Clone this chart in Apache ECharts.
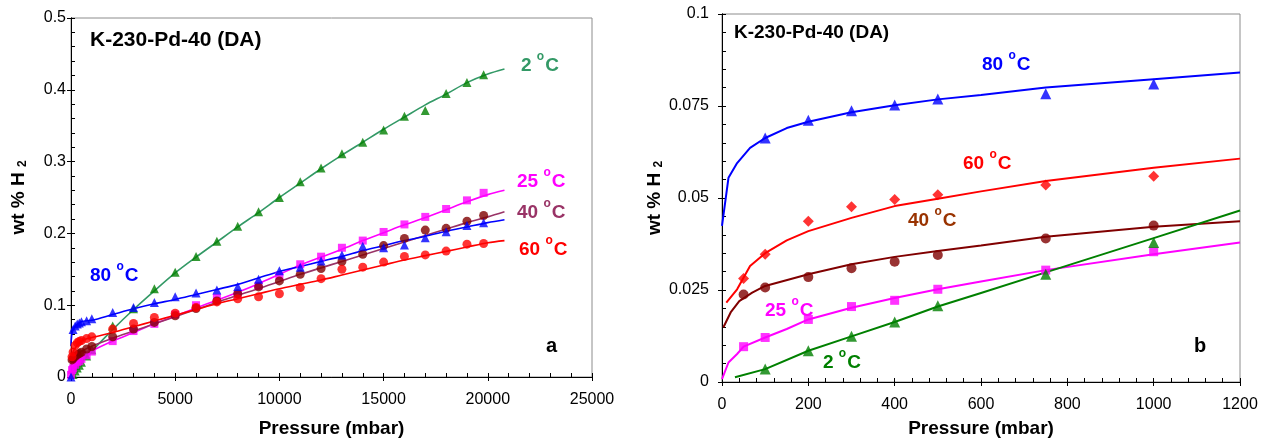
<!DOCTYPE html>
<html>
<head>
<meta charset="utf-8">
<script src="https://cdn.jsdelivr.net/npm/echarts@6/dist/echarts.min.js"></script>
<style>
html,body{margin:0;padding:0;background:#fff;}
#chart{width:1265px;height:443px;}
</style>
</head>
<body>
<div id="chart"></div>
<script>
// measured points (mbar, wt %)
const pLow = [50, 100, 200, 300, 400, 500, 750, 1000];
const pHigh = [2000, 3000, 4000, 5000, 6000, 7000, 8000, 9000, 10000, 11000, 12000, 13000, 14000, 15000, 16000, 17000, 18000, 19000, 19800];

const low80 = [null, 0.0663, 0.0711, 0.0737, 0.0753, 0.0769, 0.0783, 0.081];
const low60 = [0.0281, 0.0347, 0.0437, 0.0476, 0.0496, 0.0509, 0.0535, 0.0559];
const low40 = [0.0238, 0.0257, 0.0285, 0.0309, 0.0327, 0.0345, 0.039, 0.0425];
const low25 = [0.0096, 0.0121, 0.017, 0.0205, 0.0222, 0.0252, 0.0304, 0.0354];
const low2 = [null, 0.0035, 0.0085, 0.0124, 0.0163, 0.0207, 0.0293, 0.0379];

const high2 = [0.071, 0.095, 0.123, 0.146, 0.168, 0.189, 0.21, 0.23, 0.25, 0.272, 0.291, 0.311, 0.327, 0.344, 0.363, 0.371, 0.395, 0.41, 0.421];
const high25 = [0.05, 0.064, 0.074, 0.087, 0.1, 0.11, 0.115, 0.127, 0.141, 0.157, 0.1676, 0.18, 0.19, 0.202, 0.2125, 0.223, 0.234, 0.246, 0.2565];
const high40 = [0.056, 0.0667, 0.076, 0.0852, 0.0954, 0.106, 0.116, 0.1255, 0.1338, 0.143, 0.151, 0.1607, 0.171, 0.183, 0.193, 0.2046, 0.207, 0.217, 0.225];
const high80 = [0.0898, 0.0968, 0.1037, 0.1116, 0.117, 0.121, 0.126, 0.136, 0.148, 0.153, 0.1616, 0.17, 0.182, 0.18, 0.184, 0.194, 0.2024, 0.211, 0.215];
const high60 = [0.0667, 0.0746, 0.083, 0.0889, 0.0968, 0.1046, 0.109, 0.1116, 0.116, 0.1245, 0.137, 0.15, 0.153, 0.16, 0.168, 0.17, 0.1754, 0.185, 0.186];

// fitted curves, panel a
const fitPA = [0, 100, 500, 1000, 2000, 3000, 4000, 5000, 6000, 7000, 8000, 9000, 10000, 11000, 12000, 13000, 14000, 15000, 16000, 17000, 18000, 19000, 20000, 20800];
const fit2A = [0, 0.0035, 0.02, 0.036, 0.066, 0.094, 0.12, 0.145, 0.167, 0.188, 0.209, 0.229, 0.25, 0.27, 0.29, 0.309, 0.327, 0.345, 0.362, 0.379, 0.394, 0.41, 0.422, 0.429];
const fit25A = [0.001, 0.012, 0.026, 0.036, 0.05, 0.062, 0.074, 0.085, 0.096, 0.107, 0.118, 0.13, 0.143, 0.156, 0.167, 0.178, 0.19, 0.201, 0.212, 0.222, 0.233, 0.244, 0.254, 0.26];
const fit40A = [0.014, 0.026, 0.0356, 0.043, 0.054, 0.064, 0.074, 0.084, 0.094, 0.104, 0.114, 0.123, 0.133, 0.143, 0.152, 0.161, 0.17, 0.179, 0.188, 0.197, 0.206, 0.215, 0.223, 0.23];
const fit80A = [0.043, 0.066, 0.077, 0.079, 0.087, 0.095, 0.102, 0.108, 0.115, 0.122, 0.129, 0.138, 0.147, 0.154, 0.161, 0.168, 0.176, 0.183, 0.19, 0.196, 0.203, 0.209, 0.215, 0.219];
const fit60A = [0.02, 0.035, 0.05, 0.055, 0.062, 0.07, 0.078, 0.086, 0.094, 0.102, 0.109, 0.116, 0.123, 0.129, 0.135, 0.142, 0.149, 0.156, 0.163, 0.169, 0.175, 0.181, 0.187, 0.19];

// fitted curves, panel b
const fitP80B = [0, 15, 35, 65, 100, 150, 200, 300, 400, 500, 600, 750, 1000, 1200];
const fit80B = [0.0424, 0.0555, 0.0595, 0.0636, 0.0663, 0.069, 0.0707, 0.0733, 0.0752, 0.0768, 0.078, 0.08, 0.0823, 0.0841];
const fitP60B = [10, 35, 65, 100, 150, 200, 300, 400, 500, 600, 750, 1000, 1200];
const fit60B = [0.0216, 0.0252, 0.0315, 0.035, 0.0385, 0.041, 0.0446, 0.0478, 0.0498, 0.0518, 0.0546, 0.0582, 0.0607];
const fitP40B = [3, 20, 40, 70, 100, 200, 300, 400, 500, 600, 750, 1000, 1200];
const fit40B = [0.0148, 0.0189, 0.022, 0.0243, 0.0261, 0.0293, 0.032, 0.034, 0.0356, 0.0371, 0.0395, 0.0422, 0.0437];
const fitP25B = [0, 15, 35, 50, 100, 150, 200, 300, 400, 500, 600, 750, 1000, 1200];
const fit25B = [0.0008, 0.0053, 0.0076, 0.0096, 0.0121, 0.0144, 0.017, 0.0202, 0.0228, 0.0252, 0.0273, 0.0304, 0.0347, 0.0379];
const fitP2B = [30, 100, 200, 300, 400, 500, 600, 750, 1000, 1200];
const fit2B = [0.0013, 0.0035, 0.0085, 0.0124, 0.0163, 0.0205, 0.0242, 0.0298, 0.0391, 0.0466];

function zip(xs, ys){
    return xs.map((x,i)=>[x, ys[i]]).filter(d=>d[1]!=null);
}

const chart = echarts.init(document.getElementById('chart'));
const FONT = 'Liberation Sans, Arial, sans-serif';

function axisPair(dim, gridIndex, min, max, interval, nameText, nameGap, labelMargin){
    const fmt = v => String(+v.toFixed(4));
    const main = {
        type:'value', gridIndex, min, max, interval,
        position: dim=='x' ? 'bottom' : 'left',
        axisLine:{show:true, onZero:false, lineStyle:{color:'#000', width:1}},
        axisTick:{show:true, inside:false, length:4, lineStyle:{color:'#000'}},
        axisLabel:{color:'#000', fontFamily:FONT, fontSize:16, margin:labelMargin, formatter:fmt},
        splitLine:{show:false},
        name:nameText, nameLocation:'middle', nameGap,
        nameTextStyle:{color:'#000', fontFamily:FONT, fontWeight:'bold', fontSize:19,
            rich:{a:{fontFamily:FONT, fontWeight:'bold', fontSize:19, color:'#000'},
                  b:{fontFamily:FONT, fontWeight:'bold', fontSize:12, color:'#000', padding:[8,0,0,0]}}}
    };
    if(dim=='y') main.nameRotate = 90;
    // second axis on the same side: inside major ticks + minor ticks
    const inner = {
        type:'value', gridIndex, min, max, interval,
        position: dim=='x' ? 'bottom' : 'left',
        axisLine:{show:true, onZero:false, lineStyle:{color:'#000', width:1}},
        axisTick:{show:true, inside:true, length:4, lineStyle:{color:'#000'}},
        minorTick:{show:true, splitNumber:5, length:4, lineStyle:{color:'#000'}},
        axisLabel:{show:false},
        splitLine:{show:false}
    };
    return [main, inner];
}

const xAxes = [
    ...axisPair('x', 0, 0, 25000, 5000, 'Pressure (mbar)', 42, 15),
    ...axisPair('x', 1, 0, 1200, 200, 'Pressure (mbar)', 37, 15)
];
const yAxes = [
    ...axisPair('y', 0, 0, 0.5, 0.1, '{a|wt % H }{b|2}', 42, 5),
    ...axisPair('y', 1, 0, 0.1, 0.025, '{a|wt % H }{b|2}', 56, 13)
];

function pts(name, data, xi, yi, symbol, size, color){
    return {name, type:'scatter', xAxisIndex:xi, yAxisIndex:yi, data, symbol, symbolSize:size,
        itemStyle:{color}, z:5, silent:true};
}
function fit(name, data, xi, yi, color, width, smooth){
    return {name, type:'line', xAxisIndex:xi, yAxisIndex:yi, data, showSymbol:false,
        smooth, lineStyle:{color, width}, z:3, silent:true};
}

const series = [
    // panel a
    fit('fit 2', zip(fitPA, fit2A), 0, 0, '#339966', 1.6, 0.3),
    fit('fit 25', zip(fitPA, fit25A), 0, 0, '#ff00ff', 1.6, 0.3),
    fit('fit 40', zip(fitPA, fit40A), 0, 0, '#993366', 1.6, 0.3),
    fit('fit 80', zip(fitPA, fit80A), 0, 0, '#0000ff', 1.6, 0.3),
    fit('fit 60', zip(fitPA, fit60A), 0, 0, '#ff0000', 1.6, 0.3),
    pts('2', zip(pLow, low2).concat(zip(pHigh, high2)), 0, 0, 'triangle', 9, '#008000'),
    pts('25', [[0, 0.003]].concat(zip(pLow, low25), zip(pHigh, high25)), 0, 0, 'rect', 8, '#ff00ff'),
    pts('40', zip(pLow, low40).concat(zip(pHigh, high40)), 0, 0, 'circle', 9, '#800000'),
    pts('60', zip(pLow, low60).concat(zip(pHigh, high60)), 0, 0, 'circle', 9, '#ff0000'),
    pts('80', [[0, 0]].concat(zip(pLow, low80), zip(pHigh, high80)), 0, 0, 'triangle', 9, '#0000ff'),
    // panel b
    fit('fit 80b', zip(fitP80B, fit80B), 2, 2, '#0000ff', 2, false),
    fit('fit 60b', zip(fitP60B, fit60B), 2, 2, '#ff0000', 2, false),
    fit('fit 40b', zip(fitP40B, fit40B), 2, 2, '#800000', 2, false),
    fit('fit 25b', zip(fitP25B, fit25B), 2, 2, '#ff00ff', 2, false),
    fit('fit 2b', zip(fitP2B, fit2B), 2, 2, '#008000', 2, false),
    pts('80b', zip(pLow, low80), 2, 2, 'triangle', 11, '#0000ff'),
    pts('60b', zip(pLow, low60), 2, 2, 'diamond', 11, '#ff0000'),
    pts('40b', zip(pLow, low40), 2, 2, 'circle', 10, '#800000'),
    pts('25b', zip(pLow, low25), 2, 2, 'rect', 9, '#ff00ff'),
    pts('2b', zip(pLow, low2), 2, 2, 'triangle', 11, '#008000')
];

function tempLabel(x, y, t, color){
    return {type:'text', left:x, top:y-12, z:10, silent:true,
        style:{text:'{n|'+t+' }{s|o}{n|C}', fill:color,
            rich:{n:{fontFamily:FONT, fontWeight:'bold', fontSize:19, lineHeight:24, verticalAlign:'bottom', fill:color},
                  s:{fontFamily:FONT, fontWeight:'bold', fontSize:12, lineHeight:24, verticalAlign:'top', fill:color, padding:[0,1,0,0]}}}};
}
function plainText(x, y, t, size){
    return {type:'text', left:x, top:y-size*0.6, z:10, silent:true,
        style:{text:t, fill:'#000', font:'bold '+size+'px '+FONT}};
}

const graphics = [
    plainText(90, 42, 'K-230-Pd-40 (DA)', 21),
    plainText(734, 35, 'K-230-Pd-40 (DA)', 19),
    plainText(546, 348, 'a', 20),
    plainText(1194, 348, 'b', 20),
    tempLabel(521, 63, '2', '#339966'),
    tempLabel(517, 179, '25', '#ff00ff'),
    tempLabel(517, 210, '40', '#993366'),
    tempLabel(519, 247, '60', '#ff0000'),
    tempLabel(90, 273, '80', '#0000ff'),
    tempLabel(982, 62, '80', '#0000ff'),
    tempLabel(963, 161, '60', '#ff0000'),
    tempLabel(908, 218, '40', '#993300'),
    tempLabel(765, 308, '25', '#ff00ff'),
    tempLabel(823, 360, '2', '#008000')
];

chart.setOption({
    animation:false,
    backgroundColor:'#fff',
    grid:[
        {left:71, top:18, width:521, height:360, show:true, borderColor:'#8c8c8c', borderWidth:1, backgroundColor:'transparent'},
        {left:722, top:14, width:518, height:369, show:true, borderColor:'#8c8c8c', borderWidth:1, backgroundColor:'transparent'}
    ],
    xAxis:xAxes,
    yAxis:yAxes,
    series,
    graphic:graphics
});
</script>
</body>
</html>
